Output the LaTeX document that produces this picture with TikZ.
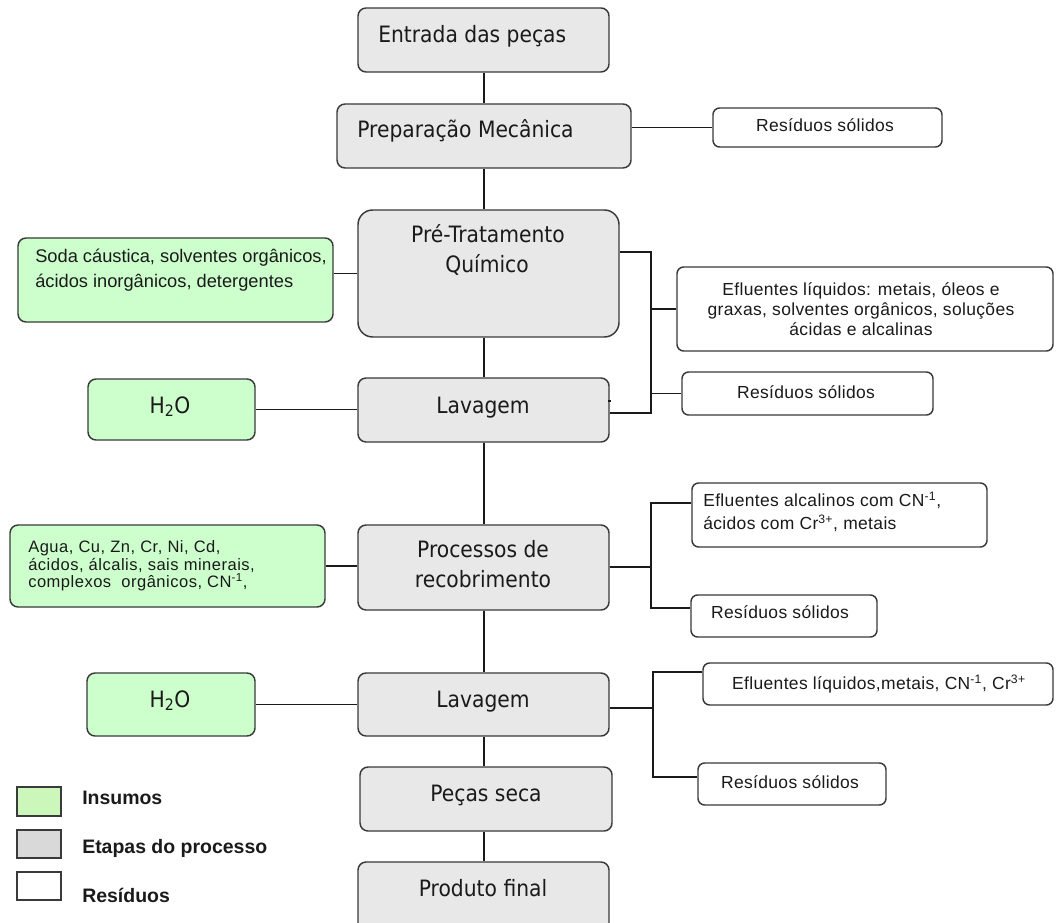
\documentclass[tikz,border=0pt]{standalone}
\usepackage{fontspec}
\usetikzlibrary{fit}

% Fonts: a narrow humanist sans for the process steps, an Arial-like sans elsewhere
\newfontfamily\stepfont[FakeStretch=0.9]{DejaVu Sans}
\newfontfamily\sidefont[LetterSpace=2]{Liberation Sans}
\newfontfamily\inputfont{Liberation Sans}
\newfontfamily\inputspfont[LetterSpace=3]{Liberation Sans}
\newfontfamily\legendfont{Liberation Sans}

\definecolor{insumo}{HTML}{CCFFCC}
\definecolor{etapa}{HTML}{E8E8E8}
\definecolor{leginsumo}{HTML}{CCF7BA}
\definecolor{legetapa}{HTML}{D9D9D9}
\definecolor{borda}{HTML}{3A3A3A}
\definecolor{tinta}{HTML}{1A1A1A}

\begin{document}
\begin{tikzpicture}[x=0.75pt,y=-0.75pt,
  box/.style={draw=borda, line width=1.1pt, inner sep=0pt},
  stepbox/.style={box, fill=etapa, rounded corners=6pt},
  inbox/.style={box, fill=insumo, rounded corners=6pt},
  outbox/.style={box, fill=white, rounded corners=5pt},
  steptext/.style={text=tinta, font=\stepfont\fontsize{16.9}{21}\selectfont, inner sep=0pt, anchor=base},
  sidetext/.style={text=tinta, font=\sidefont\fontsize{13.1}{15}\selectfont, inner sep=0pt, anchor=base},
  sodatext/.style={text=tinta, font=\inputfont\fontsize{13.7}{18}\selectfont, inner sep=0pt, anchor=base west},
  aguatext/.style={text=tinta, font=\inputspfont\fontsize{12.4}{13}\selectfont, inner sep=0pt, anchor=base west},
  link/.style={draw=tinta, line width=1.1pt},
  legbox/.style={draw=borda, line width=1.3pt, inner sep=0pt},
  legtext/.style={text=tinta, font=\legendfont\bfseries\fontsize{14.6}{16}\selectfont, anchor=base west, inner sep=0pt}
]
\fill[white] (0,0) rectangle (1056,923);
\useasboundingbox (0,0) rectangle (1056,923);
\clip (0,0) rectangle (1056,923);

% ---- process steps (central column) ----
\node[stepbox, fit={(358,8)(609,72)}] (entrada) {};
\node[stepbox, fit={(337,104)(631,168)}] (prep) {};
\node[stepbox, rounded corners=11pt, fit={(358,210)(619,337)}] (pre) {};
\node[stepbox, fit={(358,378)(609,442)}] (lav1) {};
\node[stepbox, fit={(358,525)(609,610)}] (proc) {};
\node[stepbox, fit={(358,673)(609,736)}] (lav2) {};
\node[stepbox, fit={(360,767)(612,831)}] (seca) {};
\node[stepbox, fit={(358,862)(609,940)}] (final) {};

\node[steptext, anchor=base west] (entradaT) at (378,43) {Entrada das peças};
\node[steptext, anchor=base west] (prepT) at (357,138) {Preparação Mecânica};
\node[steptext] (preT1) at (488,243) {Pré-Tratamento};
\node[steptext] (preT2) at (487,273) {Químico};
\node[steptext] (lav1T) at (483,413) {Lavagem};
\node[steptext] (procT1) at (483,557) {Processos de};
\node[steptext] (procT2) at (483,587) {recobrimento};
\node[steptext] (lav2T) at (483,707) {Lavagem};
\node[steptext] (secaT) at (486,801) {Peças seca};
\node[steptext] (finalT) at (483,896) {Produto final};

% ---- inputs (left) ----
\node[inbox, fit={(18,238)(333,322)}] (soda) {};
\node[sodatext] (sodaT1) at (35,263) {Soda cáustica, solventes orgânicos,};
\node[sodatext] (sodaT2) at (35,288) {ácidos inorgânicos, detergentes};

\node[inbox, fit={(88,379)(255,440)}] (h2oa) {};
\node[steptext] (h2oaT) at (170,413) {H\textsubscript{2}O};

\node[inbox, fit={(10,525)(325,607)}] (agua) {};
\node[aguatext] (aguaT1) at (28,552) {Agua, Cu, Zn, Cr, Ni, Cd,};
\node[aguatext] (aguaT2) at (28,570) {ácidos, álcalis, sais minerais,};
\node[aguatext] (aguaT3) at (28,587) {complexos\ \ orgânicos, CN\textsuperscript{-1},};

\node[inbox, fit={(87,673)(255,736)}] (h2ob) {};
\node[steptext] (h2obT) at (170,707) {H\textsubscript{2}O};

% ---- residues (right) ----
\node[outbox, fit={(713,108)(942,147)}] (res1) {};
\node[sidetext] (res1T) at (825,132) {Resíduos sólidos};

\node[outbox, fit={(677,267)(1053,351)}] (eflu1) {};
\node[sidetext] (eflu1T1) at (861,296) {Efluentes líquidos: metais, óleos e};
\node[sidetext] (eflu1T2) at (861,316) {graxas, solventes orgânicos, soluções};
\node[sidetext] (eflu1T3) at (861,336) {ácidas e alcalinas};

\node[outbox, fit={(682,372)(933,415)}] (res2) {};
\node[sidetext] (res2T) at (806,398) {Resíduos sólidos};

\node[outbox, fit={(692,483)(987,547)}] (eflu2) {};
\node[sidetext, anchor=base west] (eflu2T1) at (703,506) {Efluentes alcalinos com CN\textsuperscript{-1},};
\node[sidetext, anchor=base west] (eflu2T2) at (703,529) {ácidos com Cr\textsuperscript{3+}, metais};

\node[outbox, fit={(691,595)(877,637)}] (res3) {};
\node[sidetext] (res3T) at (780,618) {Resíduos sólidos};

\node[outbox, fit={(703,663)(1053,705)}] (eflu3) {};
\node[sidetext] (eflu3T) at (879,689) {Efluentes líquidos,metais, CN\textsuperscript{-1}, Cr\textsuperscript{3+}};

\node[outbox, fit={(698,763)(886,805)}] (res4) {};
\node[sidetext] (res4T) at (790,788) {Resíduos sólidos};

% ---- connectors ----
\coordinate (spine) at (484,0);
\foreach \a/\b in {entrada/prep, prep/pre, pre/lav1, lav1/proc, proc/lav2, lav2/seca, seca/final}
  \draw[link] (spine |- \a.south) -- (spine |- \b.north);

\draw[link] (prep.east |- res1.west) -- (res1.west);
\draw[link] (soda.east |- pre.west) -- (pre.west);
\draw[link] (h2oa.east) -- (h2oa.east -| lav1.west);
\draw[link] (agua.east) -- (agua.east -| proc.west);
\draw[link] (h2ob.east) -- (h2ob.east -| lav2.west);

% branch from pre-treatment and first rinse
\coordinate (busA1) at (651,252);
\coordinate (busA2) at (651,413);
\coordinate (tickA) at (608,401);
\draw[link] (pre.east |- busA1) -- (busA1) -- (busA2) -- (lav1.east |- busA2);
\draw[link] (busA1 |- eflu1.west) -- (eflu1.west);
\draw[link] (busA1 |- res2.west) -- (res2.west);
\draw[link] (tickA) -- ++(3,0);

% branch from coating processes
\coordinate (busB0) at (651,567);
\coordinate (busB1) at (651,503);
\coordinate (busB2) at (651,608);
\draw[link] (proc.east |- busB0) -- (busB0);
\draw[link] (busB1 -| eflu2.west) -- (busB1) -- (busB2) -- (busB2 -| res3.west);

% branch from second rinse
\coordinate (busC0) at (653,708);
\coordinate (busC1) at (653,672);
\coordinate (busC2) at (653,777);
\draw[link] (lav2.east |- busC0) -- (busC0);
\draw[link] (busC1 -| eflu3.west) -- (busC1) -- (busC2) -- (busC2 -| res4.west);

% ---- legend ----
\node[legbox, fill=leginsumo, fit={(17,787)(61,816)}] (legIns) {};
\node[legbox, fill=legetapa, fit={(17,830)(61,858)}] (legEta) {};
\node[legbox, fill=white, fit={(17,872)(61,900)}] (legRes) {};
\node[legtext] (legInsT) at (82,804) {Insumos};
\node[legtext] (legEtaT) at (82,853) {Etapas do processo};
\node[legtext] (legResT) at (82,902) {Resíduos};
\end{tikzpicture}
\end{document}
